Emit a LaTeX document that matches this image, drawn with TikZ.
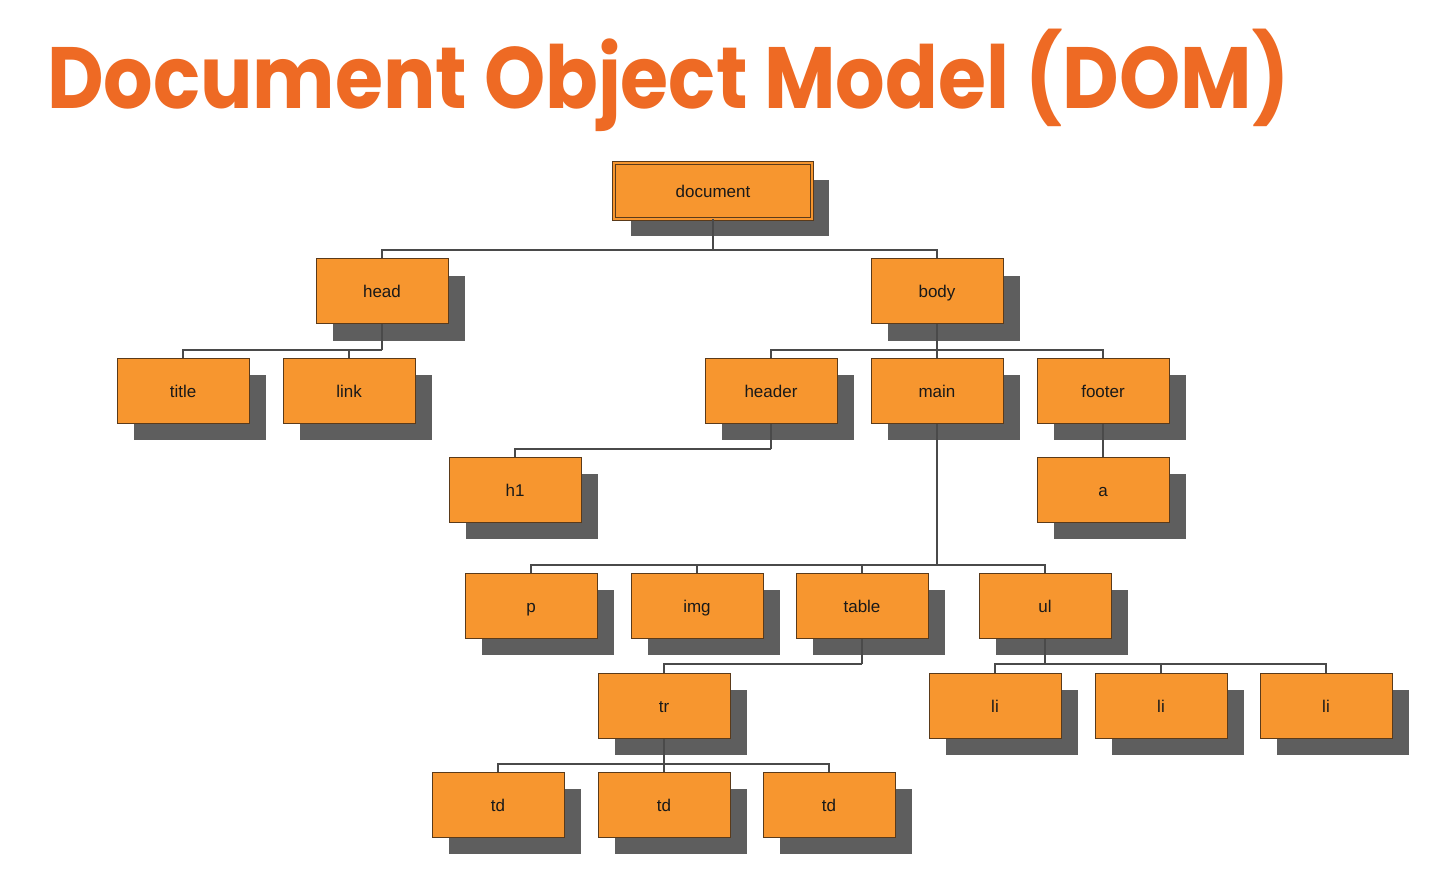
\documentclass[tikz,border=0pt]{standalone}
\usepackage{fontspec}
\setmainfont{Liberation Sans}
\newfontfamily\titlefont{Poppins}
\usetikzlibrary{shadows}
\definecolor{titleorange}{HTML}{EE6A24}
\definecolor{boxfill}{HTML}{F7962F}
\definecolor{boxdraw}{HTML}{5A3A1A}
\definecolor{shadowgray}{HTML}{5E5E5E}
\definecolor{linegray}{HTML}{4A4A4A}
\begin{document}
\begin{tikzpicture}[x=1pt,y=-1pt,
  box/.style={draw=boxdraw, line width=1pt, fill=boxfill, minimum width=132pt, minimum height=65pt,
    inner sep=0pt, text height=15pt, text depth=2pt, font=\fontsize{17}{20}\selectfont, text=black!90,
    drop shadow={shadow xshift=17pt, shadow yshift=-17pt, fill=shadowgray, opacity=1}},
  conn/.style={draw=linegray, line width=1.3pt}]
\useasboundingbox[fill=white] (0,0) rectangle (1451,885);
\node[anchor=base west, text=titleorange, inner sep=0pt, font=\titlefont\bfseries\fontsize{87}{90}\selectfont] (ttl) at (47,109) {\scalebox{0.895}[1]{Document Object Model (DOM)}};
% junction points
\coordinate (j0) at (713,250);
\coordinate (j1) at (382,350);
\coordinate (j2) at (937,350);
\coordinate (j3) at (771,449);
\coordinate (j4) at (937,565);
\coordinate (j5) at (862,664);
\coordinate (j6) at (1045,664);
\coordinate (j7) at (664,764);
% nodes
\node[box, minimum width=198pt, minimum height=56pt, double=boxfill, double distance=1.2pt, draw=boxdraw] (doc) at (713,191) {document};
\node[box] (head) at (382,291.5) {head};
\node[box] (body) at (937,291.5) {body};
\node[box] (title) at (183,390.5) {title};
\node[box] (link) at (349,390.5) {link};
\node[box] (header) at (771,390.5) {header};
\node[box] (main) at (937,390.5) {main};
\node[box] (footer) at (1103,390.5) {footer};
\node[box] (h1) at (515,489.5) {h1};
\node[box] (a) at (1103,489.5) {a};
\node[box] (p) at (531,605.5) {p};
\node[box] (img) at (697,605.5) {img};
\node[box] (table) at (862,605.5) {table};
\node[box] (ul) at (1045,605.5) {ul};
\node[box] (tr) at (664,705.5) {tr};
\node[box] (li1) at (995,705.5) {li};
\node[box] (li2) at (1161,705.5) {li};
\node[box] (li3) at (1326,705.5) {li};
\node[box] (td1) at (498,804.5) {td};
\node[box] (td2) at (664,804.5) {td};
\node[box] (td3) at (829,804.5) {td};
% connector lines
\draw[conn] (doc.south) -- (j0);
\draw[conn] (j0) -| (head.north);
\draw[conn] (j0) -| (body.north);
\draw[conn] (head.south) -- (j1);
\draw[conn] (j1) -| (title.north);
\draw[conn] (j1) -| (link.north);
\draw[conn] (body.south) -- (j2);
\draw[conn] (j2) -| (header.north);
\draw[conn] (j2) -- (main.north);
\draw[conn] (j2) -| (footer.north);
\draw[conn] (header.south) -- (j3);
\draw[conn] (j3) -| (h1.north);
\draw[conn] (footer.south) -- (a.north);
\draw[conn] (main.south) -- (j4);
\draw[conn] (j4) -| (p.north);
\draw[conn] (j4) -| (img.north);
\draw[conn] (j4) -| (table.north);
\draw[conn] (j4) -| (ul.north);
\draw[conn] (table.south) -- (j5);
\draw[conn] (j5) -| (tr.north);
\draw[conn] (ul.south) -- (j6);
\draw[conn] (j6) -| (li1.north);
\draw[conn] (j6) -| (li2.north);
\draw[conn] (j6) -| (li3.north);
\draw[conn] (tr.south) -- (j7);
\draw[conn] (j7) -| (td1.north);
\draw[conn] (j7) -| (td2.north);
\draw[conn] (j7) -| (td3.north);
\end{tikzpicture}
\end{document}
